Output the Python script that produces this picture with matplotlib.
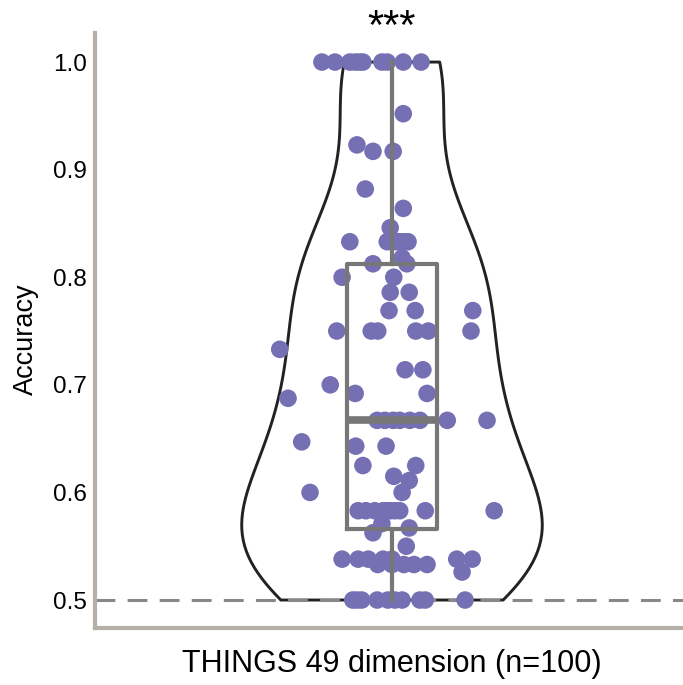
import matplotlib
matplotlib.use('Agg')
import matplotlib.pyplot as plt
import seaborn as sns
import numpy as np

plt.rcParams.update({'font.family': ['Liberation Sans', 'DejaVu Sans']})

# accuracy per subject and the horizontal jitter
accuracy = [
    1.0, 1.0, 1.0, 1.0, 1.0, 1.0, 1.0, 1.0, 1.0, 1.0,
    0.952, 0.923, 0.917, 0.917, 0.882, 0.864, 0.846,
    0.833, 0.833, 0.833, 0.833, 0.833, 0.833, 0.818, 0.8125, 0.8125, 0.8, 0.8,
    0.786, 0.786, 0.769, 0.769, 0.769,
    0.75, 0.75, 0.75, 0.75, 0.75, 0.75, 0.733, 0.714, 0.714, 0.7,
    0.692, 0.692, 0.6875,
    0.667, 0.667, 0.667, 0.667, 0.667, 0.667, 0.667, 0.667,
    0.647, 0.643, 0.643, 0.625, 0.625, 0.615, 0.611, 0.6, 0.6,
    0.583, 0.583, 0.583, 0.583, 0.583, 0.583, 0.583, 0.583, 0.583, 0.583,
    0.571, 0.567, 0.5625, 0.55,
    0.538, 0.538, 0.538, 0.538, 0.538, 0.538, 0.538,
    0.533, 0.533, 0.533, 0.533, 0.533, 0.526,
    0.5, 0.5, 0.5, 0.5, 0.5, 0.5, 0.5, 0.5, 0.5, 0.5,
]
jitter = [
    -0.118, -0.096, -0.071, -0.062, -0.049, -0.017, -0.008, 0.019, 0.049, -0.055,
    0.019, -0.059, -0.032, 0.002, -0.045, 0.019, -0.003,
    -0.071, -0.008, 0.019, 0.027, 0.005, 0.012, 0.017, -0.032, 0.025, -0.084, 0.003,
    -0.003, 0.029, -0.005, 0.039, 0.136,
    -0.093, -0.035, -0.024, 0.040, 0.061, 0.133, -0.189, 0.022, 0.052, -0.104,
    -0.062, 0.059, -0.175,
    -0.025, 0.002, 0.047, 0.093, 0.160, -0.012, 0.013, 0.030,
    -0.152, -0.061, -0.010, -0.049, 0.040, 0.003, 0.029, -0.138, 0.017,
    -0.057, -0.029, -0.015, -0.003, 0.013, 0.056, 0.172, -0.044, 0.005, -0.010,
    -0.017, 0.029, -0.032, 0.024,
    -0.084, -0.057, -0.040, -0.015, 0.000, 0.109, 0.135,
    -0.024, 0.000, 0.020, 0.037, 0.059, 0.118,
    -0.066, -0.051, -0.025, -0.007, 0.017, 0.047, 0.056, 0.123, -0.059, 0.005,
]
chance = 0.5
category = 'THINGS 49 dimension (n=100)'
sig_label = '***'

PT = '#7570B3'
BOX = '#777777'
SPINE = '#B5AFA8'

fig = plt.figure(figsize=(6.83, 6.85), dpi=100)
ax = fig.add_axes([95 / 683, 57 / 685, 594 / 683, 595 / 685])

sns.violinplot(y=accuracy, cut=0, inner=None, fill=False, color='#222222',
               linewidth=2.1, width=0.506, ax=ax)
for art in ax.collections:
    art.set_zorder(1)

ax.scatter(jitter, accuracy, s=160, color=PT, edgecolors='none', zorder=3)

ax.boxplot(accuracy, positions=[0], widths=0.153, whis=(0, 100),
           showcaps=False, showfliers=False, manage_ticks=False, zorder=4,
           boxprops=dict(color=BOX, lw=3),
           whiskerprops=dict(color=BOX, lw=3),
           medianprops=dict(color=BOX, lw=5.5))

ax.axhline(chance, color='#888888', lw=2.2, ls=(0, (6.5, 4)), zorder=2)

ax.set_xlim(-0.5, 0.5)
ax.set_ylim(0.474, 1.027)
ax.set_yticks([0.5, 0.6, 0.7, 0.8, 0.9, 1.0])
ax.set_yticklabels(['0.5', '0.6', '0.7', '0.8', '0.9', '1.0'])
ax.set_xticks([])
ax.tick_params(axis='y', length=0, pad=6, labelsize=17.5)
ax.set_ylabel('Accuracy', fontsize=19.5)
ax.yaxis.set_label_coords(-0.095, 0.486)
ax.set_xlabel(category, fontsize=22, labelpad=15)

for side in ['top', 'right']:
    ax.spines[side].set_visible(False)
for side in ['left', 'bottom']:
    ax.spines[side].set_color(SPINE)
    ax.spines[side].set_linewidth(3)

ax.text(0, 1.021, sig_label, ha='center', va='baseline', fontsize=30, clip_on=False)

fig.savefig('out.png', dpi=100)
